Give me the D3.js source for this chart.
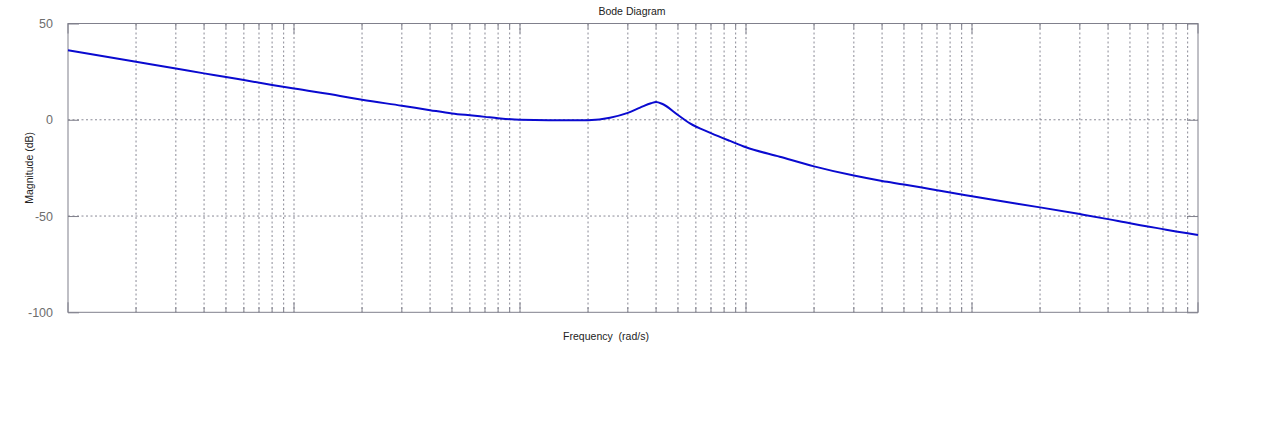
<!DOCTYPE html>
<html>
<head>
<meta charset="utf-8">
<script src="https://cdn.jsdelivr.net/npm/d3@7"></script>
<style>
  html, body { margin: 0; padding: 0; background: #fff; }
  svg { display: block; }
  text { font-family: "Liberation Sans", Arial, sans-serif; }
</style>
</head>
<body>
<svg id="chart" width="1280" height="421"></svg>
<script>
// ---- data ----
const titleText = "Bode Diagram";
const xLabelText = "Frequency  (rad/s)";
const yLabelText = "Magnitude (dB)";
const freqDomain = [0.01, 1000];
const magDomain = [-100, 50];
const yTickValues = [50, 0, -50, -100];
const yGridValues = [0, -50];

const frequency = [0.01, 0.02, 0.03, 0.04, 0.05, 0.06, 0.08, 0.1, 0.16, 0.2, 0.3, 0.4, 0.5, 0.6, 0.7, 0.8, 1,
  1.8, 2, 2.5, 3, 3.4, 3.8, 4, 4.25, 5, 5.65, 7, 8.5, 10, 14.1, 20, 30, 40, 50, 60, 70, 80, 90, 100,
  120, 200, 300, 400, 500, 600, 700, 800, 900, 1000];
const magnitude = [36.1, 30.1, 26.6, 24.1, 22.2, 20.6, 18.1, 16.2, 12.4, 10.4, 7.3, 5.0, 3.3, 2.3, 1.5, 0.8, 0.0,
  -0.3, -0.2, 1.1, 3.6, 6.3, 8.6, 9.2, 8.3, 2.5, -1.9, -6.9, -11.0, -14.3, -19.2, -24.2, -29.0, -31.8, -33.6, -35.2, -36.6, -37.8, -38.8, -39.7,
  -41.3, -45.5, -49.0, -51.6, -53.8, -55.4, -56.8, -58.0, -59.0, -59.8];

(function () {
  const svg = d3.select("#chart");
  const pL = 68, pR = 1198, pT = 23.5, pB = 312.3;

  const x = d3.scaleLog().domain(freqDomain).range([pL, pR]);
  const y = d3.scaleLinear().domain(magDomain).range([pB, pT]);

  const gridColor = "#8a8a96";
  const frameColor = "#80808c";

  const logTicks = [];
  for (let e = Math.round(Math.log10(freqDomain[0])); e < Math.round(Math.log10(freqDomain[1])); e++) {
    for (let k = 1; k <= 9; k++) logTicks.push(k * Math.pow(10, e));
  }
  logTicks.push(freqDomain[1]);

  const grid = svg.append("g");
  grid.selectAll("line.v").data(logTicks.filter(d => x(d) > pL + 0.5 && x(d) < pR - 0.5))
    .enter().append("line")
    .attr("x1", d => x(d)).attr("x2", d => x(d))
    .attr("y1", pT).attr("y2", pB)
    .attr("stroke", gridColor).attr("stroke-width", 1)
    .attr("stroke-dasharray", "2,2.5");
  grid.selectAll("line.h").data(yGridValues).enter().append("line")
    .attr("x1", pL).attr("x2", pR)
    .attr("y1", d => y(d)).attr("y2", d => y(d))
    .attr("stroke", gridColor).attr("stroke-width", 1)
    .attr("stroke-dasharray", "2,2.5");

  svg.append("rect")
    .attr("x", pL).attr("y", pT)
    .attr("width", pR - pL).attr("height", pB - pT)
    .attr("fill", "none").attr("stroke", frameColor).attr("stroke-width", 1);

  const yAxis = d3.axisLeft(y).tickValues(yTickValues).tickSize(-11).tickPadding(15).tickFormat(d => String(d));
  const gy = svg.append("g").attr("transform", `translate(${pL},0)`).call(yAxis);
  gy.select(".domain").remove();
  gy.selectAll(".tick line").attr("stroke", frameColor);
  gy.selectAll(".tick text").attr("fill", "#6e6e6e").attr("font-size", 12.5)
    .attr("font-family", "Liberation Sans, Arial, sans-serif");
  const gyr = svg.append("g").attr("transform", `translate(${pR},0)`)
    .call(d3.axisRight(y).tickValues(yTickValues).tickSize(-11).tickFormat(""));
  gyr.select(".domain").remove();
  gyr.selectAll(".tick line").attr("stroke", frameColor);

  const isMajor = d => Math.abs(Math.log10(d) - Math.round(Math.log10(d))) < 1e-9;
  const majors = logTicks.filter(isMajor);
  const minors = logTicks.filter(d => !isMajor(d));
  [[pB, -1], [pT, 1]].forEach(([yy, dir]) => {
    svg.append("g").selectAll("line").data(majors).enter().append("line")
      .attr("x1", d => x(d)).attr("x2", d => x(d))
      .attr("y1", yy).attr("y2", yy + dir * 10)
      .attr("stroke", frameColor);
    svg.append("g").selectAll("line").data(minors).enter().append("line")
      .attr("x1", d => x(d)).attr("x2", d => x(d))
      .attr("y1", yy).attr("y2", yy + dir * 5)
      .attr("stroke", frameColor);
  });

  const pts = frequency.map((f, i) => [f, magnitude[i]]);
  svg.append("path")
    .datum(pts)
    .attr("fill", "none")
    .attr("stroke", "#0a0ad0")
    .attr("stroke-width", 2)
    .attr("stroke-linejoin", "round")
    .attr("d", d3.line().x(d => x(d[0])).y(d => y(d[1])).curve(d3.curveMonotoneX));

  svg.append("text").attr("x", 632).attr("y", 15).attr("text-anchor", "middle")
    .attr("font-size", 10.5).attr("fill", "#222").text(titleText);
  svg.append("text").attr("x", 606).attr("y", 340).attr("text-anchor", "middle")
    .attr("font-size", 10.5).attr("fill", "#222")
    .style("white-space", "pre").text(xLabelText);
  svg.append("text").attr("transform", `translate(33,${(pT + pB) / 2}) rotate(-90)`)
    .attr("text-anchor", "middle").attr("font-size", 10.5).attr("fill", "#222").text(yLabelText);
})();
</script>
</body>
</html>
